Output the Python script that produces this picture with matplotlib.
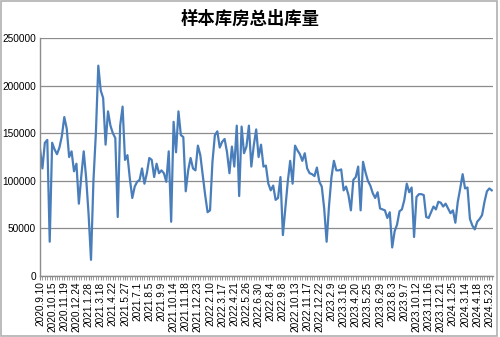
import numpy as np
import matplotlib
matplotlib.use("Agg")
import matplotlib.pyplot as plt
from matplotlib.patches import Rectangle

# weekly outbound volume
outbound = [
    134000, 113000, 140000, 143000, 36000, 140000, 133000, 128000, 135000, 147000,
    167000, 155000, 125000, 131000, 110000, 118000, 76000, 105000, 131000, 103000,
    65000, 17000, 100000, 150000, 221000, 195000, 187000, 138000, 173000, 158000,
    150000, 145000, 62000, 158000, 178000, 122000, 127000, 102000, 82000, 94000,
    99000, 101000, 113000, 97000, 108000, 124000, 122000, 104000, 118000, 108000,
    111000, 108000, 99000, 131000, 57000, 162000, 130000, 173000, 148000, 146000,
    89000, 111000, 124000, 113000, 111000, 137000, 127000, 106000, 85000, 67000,
    69000, 120000, 148000, 152000, 135000, 141000, 144000, 130000, 108000, 136000,
    115000, 158000, 84000, 157000, 129000, 136000, 158000, 115000, 137000, 154000,
    125000, 138000, 115000, 116000, 97000, 90000, 95000, 80000, 82000, 104000,
    43000, 71000, 99000, 121000, 97000, 137000, 132000, 128000, 121000, 129000,
    113000, 108000, 107000, 105000, 114000, 99000, 94000, 71000, 36000, 74000,
    104000, 121000, 111000, 111000, 112000, 90000, 94000, 85000, 69000, 101000,
    104000, 115000, 69000, 120000, 109000, 100000, 95000, 87000, 82000, 88000,
    71000, 70000, 69000, 61000, 67000, 30000, 47000, 54000, 68000, 70000,
    80000, 97000, 88000, 93000, 41000, 83000, 86000, 86000, 85000, 62000,
    61000, 67000, 73000, 70000, 78000, 77000, 73000, 76000, 71000, 66000,
    69000, 56000, 78000, 92000, 107000, 92000, 93000, 60000, 53000, 49000,
    57000, 60000, 64000, 78000, 89000, 92000, 90000,
]

# every 5th week is labelled
tick_labels = [
    "2020.9.10", "2020.10.15", "2020.11.19", "2020.12.24", "2021.1.28", "2021.3.18",
    "2021.4.22", "2021.5.27", "2021.7.1", "2021.8.5", "2021.9.9", "2021.10.14",
    "2021.11.18", "2021.12.23", "2022.2.10", "2022.3.17", "2022.4.21", "2022.5.26",
    "2022.6.30", "2022.8.4", "2022.9.8", "2022.10.13", "2022.11.17", "2022.12.22",
    "2023.2.9", "2023.3.16", "2023.4.20", "2023.5.25", "2023.6.29", "2023.8.3",
    "2023.9.7", "2023.10.12", "2023.11.16", "2023.12.21", "2024.1.25", "2024.3.14",
    "2024.4.18", "2024.5.23",
]
y_ticks = [0, 50000, 100000, 150000, 200000, 250000]
title = "样本库房总出库量"

plt.rcParams["font.family"] = ["Liberation Sans", "DejaVu Sans"]

fig = plt.figure(figsize=(5.0, 3.37), dpi=100)
ax = fig.add_axes([0.08, 0.181, 0.906, 0.706])

x = np.arange(len(outbound))
ax.plot(x, outbound, color="#4A7EBB", lw=1.6, solid_joinstyle="round")

ax.set_ylim(0, 250000)
ax.set_yticks(y_ticks)
ax.set_yticklabels([str(v) for v in y_ticks], fontsize=7.3)
ax.set_xlim(0, len(outbound) - 0.5)
ax.set_xticks(np.arange(0, len(outbound), 5))
ax.set_xticklabels(tick_labels, rotation=90, fontsize=7.3)
ax.set_xticks(np.arange(len(outbound)), minor=True)

ax.grid(axis="y", color="#8c8c8c", lw=0.9)
ax.set_axisbelow(True)
for s in ["top", "right"]:
    ax.spines[s].set_visible(False)
for s in ["left", "bottom"]:
    ax.spines[s].set_color("#8c8c8c")
    ax.spines[s].set_linewidth(1.0)
ax.tick_params(axis="y", length=0, pad=3)
ax.tick_params(axis="x", which="both", length=3, color="#8c8c8c", pad=1)

fig.text(0.5, 0.945, title, ha="center", va="center", fontsize=12.5,
         fontweight="bold", family=["Noto Sans CJK SC", "DejaVu Sans"])

fig.patches.append(Rectangle((0.002, 0.003), 0.992, 0.994, transform=fig.transFigure,
                             fill=False, ec="#b0b0b0", lw=1.2))

fig.savefig("out.png", dpi=100)
